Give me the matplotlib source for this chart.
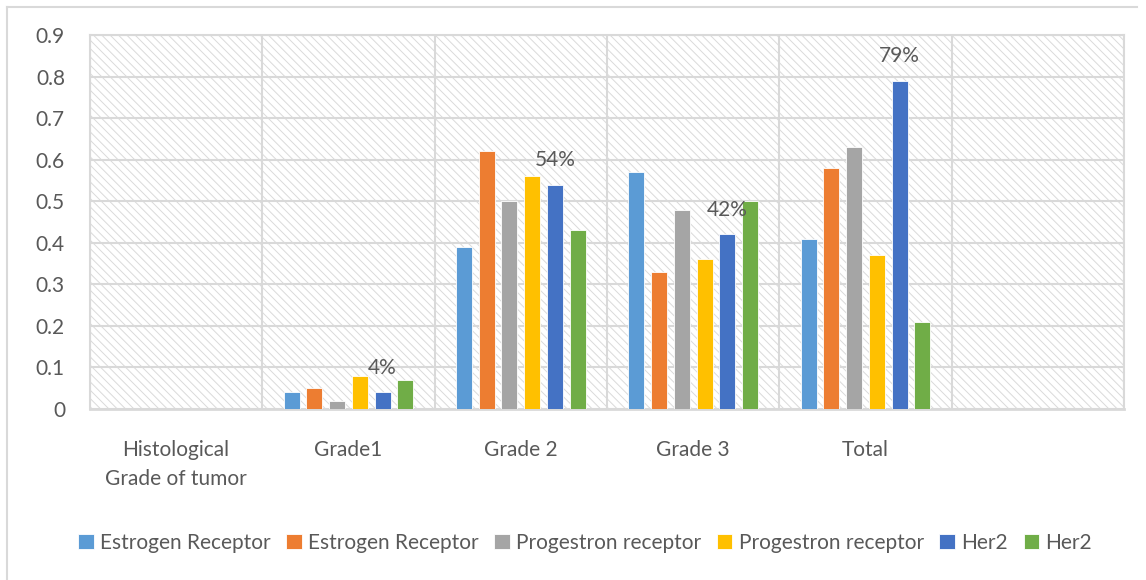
import matplotlib.pyplot as plt
import numpy as np

plt.rcParams['font.family'] = ['Lato', 'DejaVu Sans']
plt.rcParams['hatch.color'] = '#dadada'
plt.rcParams['hatch.linewidth'] = 0.7

# data
categories = ["Histological\nGrade of tumor", "Grade1", "Grade 2", "Grade 3", "Total", ""]
series_names = ["Estrogen Receptor", "Estrogen Receptor", "Progestron receptor",
                "Progestron receptor", "Her2", "Her2"]
er_a = [np.nan, 0.04, 0.39, 0.57, 0.41, np.nan]
er_b = [np.nan, 0.05, 0.62, 0.33, 0.58, np.nan]
pr_a = [np.nan, 0.02, 0.50, 0.48, 0.63, np.nan]
pr_b = [np.nan, 0.08, 0.56, 0.36, 0.37, np.nan]
her2_a = [np.nan, 0.04, 0.54, 0.42, 0.79, np.nan]
her2_b = [np.nan, 0.07, 0.43, 0.50, 0.21, np.nan]
yticks = [0, 0.1, 0.2, 0.3, 0.4, 0.5, 0.6, 0.7, 0.8, 0.9]
ytick_labels = ["0", "0.1", "0.2", "0.3", "0.4", "0.5", "0.6", "0.7", "0.8", "0.9"]

colors = ['#5b9bd5', '#ed7d31', '#a5a5a5', '#ffc000', '#4472c4', '#70ad47']
all_series = [er_a, er_b, pr_a, pr_b, her2_a, her2_b]

text_col = '#595959'
grid_col = '#d9d9d9'

fig = plt.figure(figsize=(11.46, 5.8), dpi=100)
ax = fig.add_axes([90/1146, 1 - 409/580, (1124-90)/1146, (409-35)/580])
ax.set_facecolor('white')

x = np.arange(len(categories))
slot = 0.132
width = 0.093

# hatched background
ax.add_patch(plt.Rectangle((0, 0), 1, 1, transform=ax.transAxes, facecolor='white',
                           hatch='\\\\\\\\', edgecolor='#dadada', linewidth=0, zorder=0))

for i, vals in enumerate(all_series):
    ax.bar(x + (i - 2.5) * slot, vals, width, color=colors[i], label=series_names[i],
           edgecolor='white', linewidth=0.6, zorder=3)

# value labels on the first Her2 series
for xi, v in zip(x, her2_a):
    if not np.isnan(v):
        ax.text(xi + 1.5 * slot, v + 0.035, f"{v*100:.0f}%", ha='center', va='bottom',
                fontsize=15, color=text_col, zorder=4)

ax.set_xlim(-0.5, len(categories) - 0.5)
ax.set_ylim(0, 0.9)
ax.set_yticks(yticks)
ax.set_yticklabels(ytick_labels)
ax.set_xticks(x)
ax.set_xticklabels(categories, linespacing=1.6)
ax.set_xticks(np.arange(-0.5, len(categories), 1.0), minor=True)

ax.grid(True, axis='y', color=grid_col, linewidth=1.5, zorder=1)
ax.grid(True, axis='x', which='minor', color=grid_col, linewidth=1.5, zorder=1)
ax.grid(False, axis='x', which='major')
ax.set_axisbelow(True)

ax.tick_params(axis='both', which='both', length=0, labelsize=15, labelcolor=text_col)
ax.tick_params(axis='y', pad=18)
ax.tick_params(axis='x', pad=22)

for s in ax.spines.values():
    s.set_color(grid_col)
    s.set_linewidth(1.5)
ax.spines['bottom'].set_linewidth(2)

leg = fig.legend(loc='center', bbox_to_anchor=(585/1146, 1 - 543/580), ncol=6,
                 frameon=False, fontsize=15, handlelength=0.75, handleheight=0.75,
                 handletextpad=0.3, columnspacing=0.75, labelcolor=text_col)

# outer chart border
fig.add_artist(plt.Line2D([7/1146, 1137/1146], [1 - 7/580, 1 - 7/580], color=grid_col, linewidth=1.5))
fig.add_artist(plt.Line2D([7/1146, 7/1146], [1 - 7/580, 0], color=grid_col, linewidth=1.5))

fig.savefig('out.png', dpi=100)
